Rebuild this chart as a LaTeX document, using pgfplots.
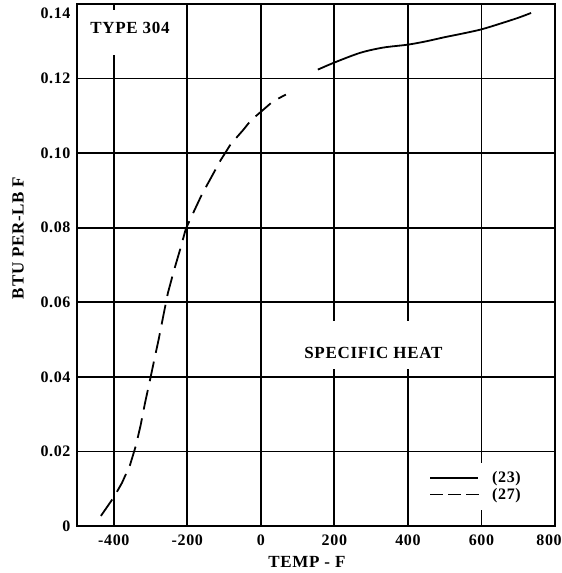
\documentclass[border=0pt]{standalone}
\usepackage{fontspec}
\setmainfont{Liberation Serif}[LetterSpace=4]
\usepackage{pgfplots}
\pgfplotsset{compat=1.18}

% specific heat, type 304
\pgfplotstableread{
x y
155 0.1224
200 0.1243
270 0.1269
332 0.1283
400 0.1291
450 0.1300
500 0.1311
550 0.1321
600 0.1332
650 0.1347
700 0.1363
735 0.1376
}\curvea

\pgfplotstableread{
x y
-435 0.0027
-400 0.0077
-378 0.0115
-356 0.0163
-340 0.0215
-327 0.0270
-315 0.0330
-302 0.0389
-290 0.0445
-278 0.0500
-265 0.0565
-253 0.0624
-237 0.0683
-220 0.0740
-204 0.0797
-180 0.0848
-160 0.0890
-136 0.0933
-110 0.0980
-82 0.1024
-49 0.1061
-27 0.1088
5 0.1115
33 0.1139
68 0.1157
}\curveb

\begin{document}
\begin{tikzpicture}
\begin{axis}[
  scale only axis,
  width=478pt, height=522pt,
  xmin=-500, xmax=800,
  ymin=0, ymax=0.14,
  xtick={-400,-200,0,200,400,600,800},
  xticklabels={-400,-200,0,200,400,600,\makebox[0pt]{\hspace{-12pt}800}},
  ytick={0,0.02,0.04,0.06,0.08,0.10,0.12,0.14},
  yticklabels={0,0.02,0.04,0.06,0.08,0.10,0.12,\raisebox{-9pt}[\height][0pt]{0.14}},
  major tick length=0pt,
  grid=major,
  major grid style={black, line width=1.8pt},
  axis line style={line width=2.2pt},
  tick label style={font=\fontsize{16}{18}\selectfont\bfseries},
  xticklabel style={yshift=-5pt},
  yticklabel style={xshift=-3pt},
  xlabel={TEMP - F},
  ylabel={BTU PER-LB F},
  label style={font=\fontsize{17}{19}\selectfont\bfseries},
  xlabel style={at={(ticklabel cs:0.481)}, yshift=-4pt},
  ylabel style={at={(ticklabel cs:0.552)}, yshift=10pt},
  legend style={at={(axis cs:740,0.0043)}, anchor=south east,
    draw=none, fill=white, inner xsep=10pt, inner ysep=7pt,
    font=\fontsize{16}{18}\selectfont\bfseries, row sep=0pt,
    legend cell align=left,
    /tikz/every odd column/.append style={column sep=10pt}},
]
\addplot[black, line width=1.8pt, smooth,
  legend image code/.code={\draw[black, line width=1.8pt] (0pt,0pt) -- (48pt,0pt);}]
  table[x=x, y=y] {\curvea};
\addlegendentry{(23)}
\addplot[black, line width=1.8pt, dash pattern=on 20pt off 9pt,
  legend image code/.code={\draw[black, line width=1.8pt, dash pattern=on 13pt off 5pt] (0pt,0pt) -- (49pt,0pt);}]
  table[x=x, y=y] {\curveb};
\addlegendentry{(27)}

\fill[white] (axis cs:-480,0.1264) rectangle (axis cs:-310,0.1385);
\node[font=\fontsize{17}{19}\selectfont\bfseries] at (axis cs:-356,0.1336) {TYPE 304};
\fill[white] (axis cs:150,0.0421) rectangle (axis cs:450,0.0549);
\node[font=\fontsize{17}{19}\selectfont\bfseries] at (axis cs:306,0.0464) {SPECIFIC HEAT};

\coordinate (sw) at (rel axis cs:0,0);
\coordinate (ne) at (rel axis cs:1,1);
\end{axis}
\pgfresetboundingbox
\path ([xshift=-77pt,yshift=-47pt]sw) rectangle ([xshift=7pt,yshift=4pt]ne);
\end{tikzpicture}
\end{document}
